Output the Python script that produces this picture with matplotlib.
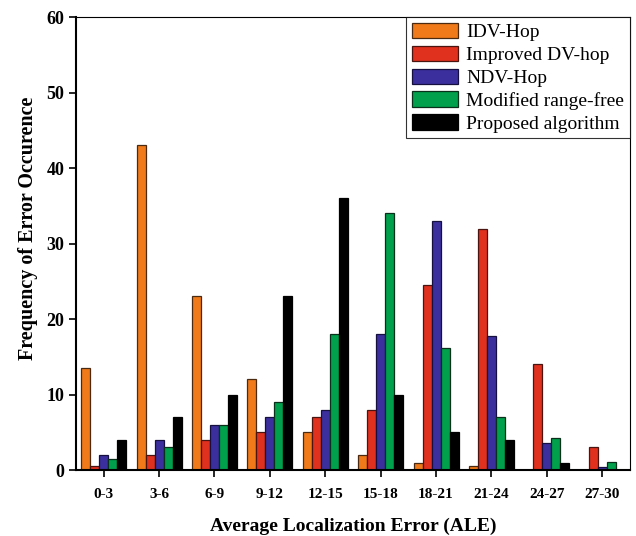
import numpy as np
import matplotlib
matplotlib.use('Agg')
from matplotlib import pyplot as plt

plt.rcParams['font.family'] = 'Liberation Serif'

categories = ['0-3', '3-6', '6-9', '9-12', '12-15', '15-18', '18-21', '21-24', '24-27', '27-30']
series_names = ['IDV-Hop', 'Improved DV-hop', 'NDV-Hop', 'Modified range-free', 'Proposed algorithm']
idv_hop = [13.5, 43, 23, 12, 5, 2, 1, 0.5, 0, 0]
improved_dv = [0.5, 2, 4, 5, 7, 8, 24.5, 32, 14, 3]
ndv_hop = [2, 4, 6, 7, 8, 18, 33, 17.7, 3.6, 0.4]
modified_rf = [1.5, 3, 6, 9, 18, 34, 16.2, 7, 4.2, 1.1]
proposed = [4, 7, 10, 23, 36, 10, 5, 4, 1, 0]

colors = ['#f07a1a', '#e0301e', '#3a2f9c', '#00a04c', '#000000']
edges = ['#4a2a10', '#4a1510', '#151040', '#08301a', '#000000']

fig = plt.figure(figsize=(6.36, 5.36), dpi=100)
ax = fig.add_axes([0.1195, 0.123, 0.871, 0.845])

x = np.arange(len(categories))
w = 0.162
data = [idv_hop, improved_dv, ndv_hop, modified_rf, proposed]
for i, vals in enumerate(data):
    ax.bar(x + (i - 2) * w, vals, w, color=colors[i], edgecolor=edges[i],
           linewidth=0.9, label=series_names[i])

ax.set_xlim(-0.5, len(categories) - 0.5)
ax.set_ylim(0, 60)
ax.set_xticks(x)
ax.set_xticklabels(categories, fontweight='bold', fontsize=11)
ax.set_yticks(np.arange(0, 61, 10))
ax.set_yticklabels([str(v) for v in range(0, 61, 10)], fontweight='bold', fontsize=13)
ax.tick_params(axis='both', direction='out', length=5, width=1.2)
ax.tick_params(axis='x', pad=8)
for s in ['left', 'bottom']:
    ax.spines[s].set_linewidth(1.5)
for s in ['top', 'right']:
    ax.spines[s].set_linewidth(0.8)

ax.set_xlabel('Average Localization Error (ALE)', fontweight='bold', fontsize=14, labelpad=12)
ax.set_ylabel('Frequency of Error Occurence', fontweight='bold', fontsize=14.5)
ax.yaxis.set_label_coords(-0.068, 0.534)

leg = ax.legend(loc='upper right', fontsize=14, frameon=True, fancybox=False,
                edgecolor='black', borderaxespad=0, handlelength=2.4, handleheight=0.85,
                labelspacing=0.22, borderpad=0.3, handletextpad=0.4)
leg.get_frame().set_linewidth(0.8)

plt.savefig('out.png', dpi=100)
